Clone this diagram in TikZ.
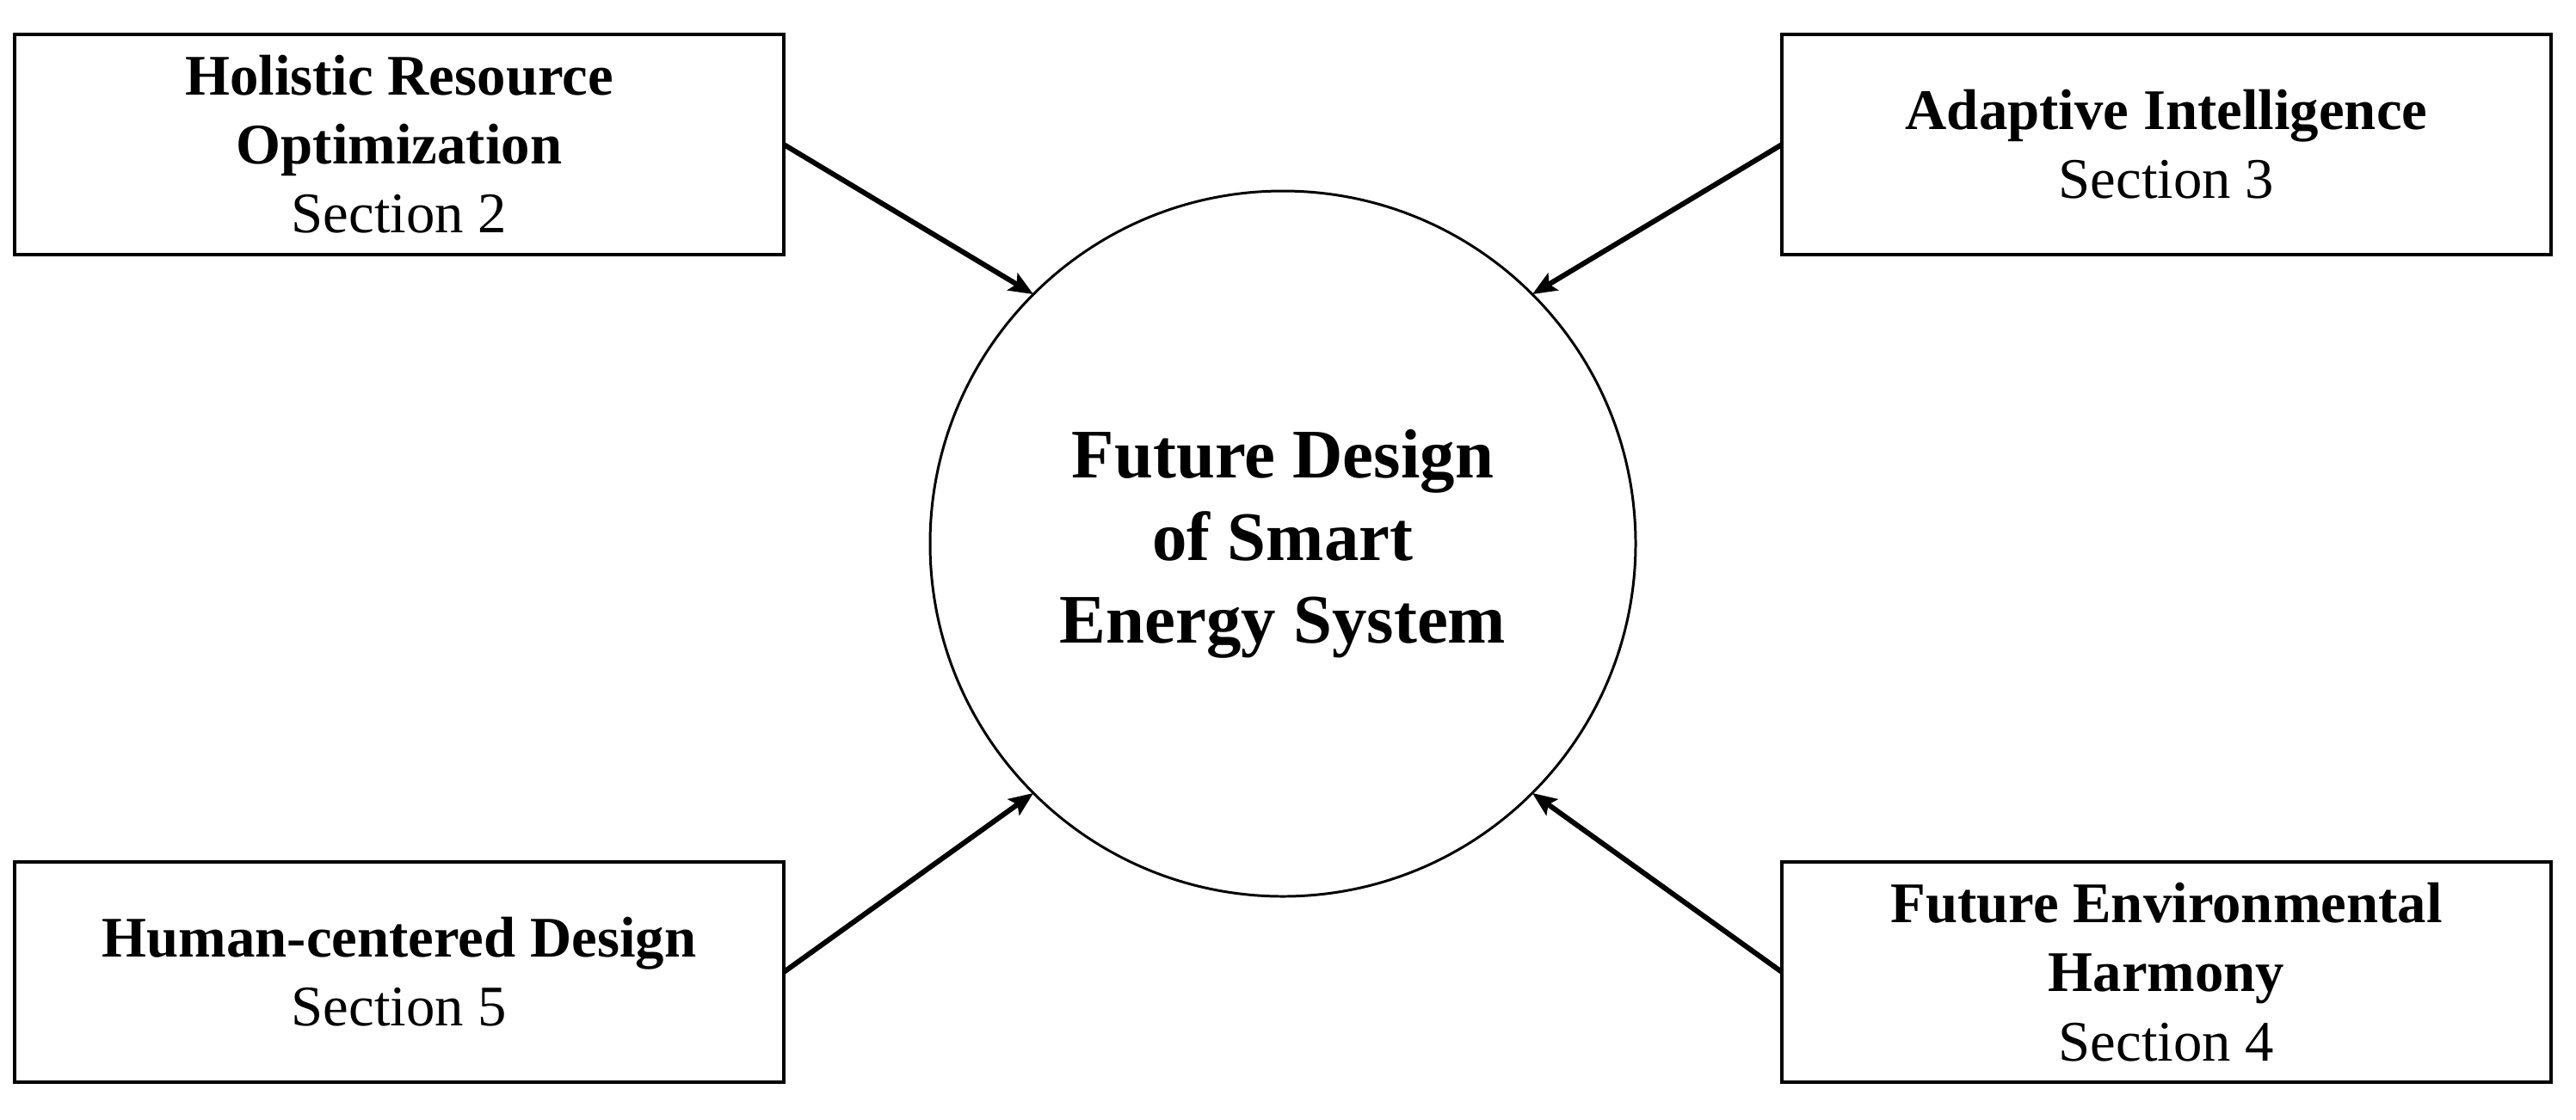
\documentclass[tikz,border=0pt]{standalone}
\usepackage{fontspec}
\setmainfont{Liberation Serif}
\usepackage{tikz}
\usetikzlibrary{positioning}
\usetikzlibrary{shapes,arrows.meta,calc}

\tikzset{
  secbox/.style={draw, line width=1.1pt, rectangle, minimum width=8.94cm, minimum height=2.56cm,
    inner sep=0pt, align=center, font=\fontsize{19}{22.8}\selectfont},
  corecircle/.style={draw, line width=0.85pt, circle, minimum size=8.2cm, inner sep=0pt,
    align=center, font=\fontsize{23}{27.3}\selectfont\bfseries},
  feed/.style={line width=1.7pt, -{Stealth[length=8pt, width=6.5pt, inset=1.5pt]}}
}

\begin{document}
\begin{tikzpicture}[outer sep = 0pt]

%\draw[step=1, gray!20, very thin] (0,-13) grid (30,0);
\useasboundingbox (0,0) rectangle (29.94,-13.01);

\coordinate (center) at (14.91,-6.32);

\node[corecircle] (core) at (center) {Future Design\\ of Smart\\ Energy System};

\node[secbox] (hro) at (4.64,-1.68)  {\textbf{Holistic Resource}\\ \textbf{Optimization}\\ Section 2};
\node[secbox] (ai)  at (25.18,-1.68) {\textbf{Adaptive Intelligence}\\ Section 3};
\node[secbox] (hcd) at (4.64,-11.30) {\textbf{Human-centered Design}\\ Section 5};
\node[secbox] (feh) at (25.18,-11.30) {\textbf{Future Environmental}\\ \textbf{Harmony}\\ Section 4};

\draw[feed] (hro.east) -- (core.135);
\draw[feed] (ai.west)  -- (core.45);
\draw[feed] (hcd.east) -- (core.225);
\draw[feed] (feh.west) -- (core.315);

\end{tikzpicture}
\end{document}
